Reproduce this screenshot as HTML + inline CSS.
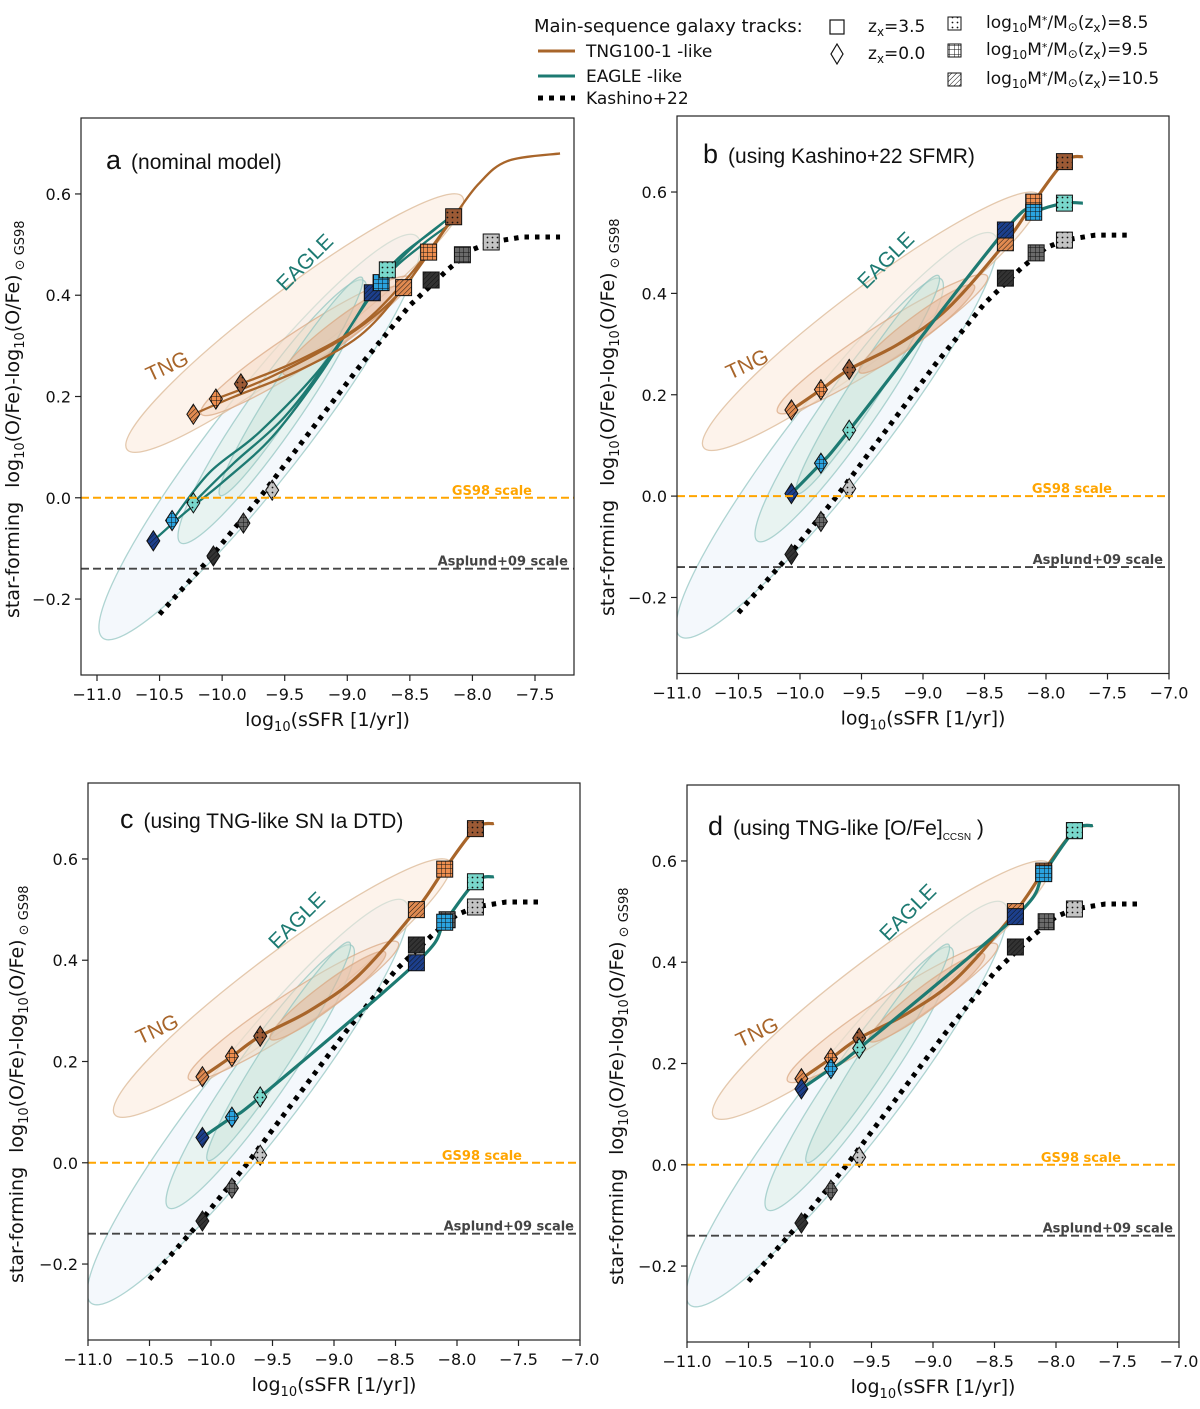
<!DOCTYPE html>
<html><head><meta charset="utf-8"><style>
html,body{margin:0;padding:0;background:#fff;}
svg{display:block;font-family:"DejaVu Sans","Liberation Sans",sans-serif;}
</style></head><body>
<svg id="fig" width="1200" height="1409" viewBox="0 0 1200 1409" xmlns="http://www.w3.org/2000/svg">
<defs>
<pattern id="pdots" patternUnits="userSpaceOnUse" width="5" height="5"><circle cx="2.5" cy="2.5" r="0.9" fill="#111"/></pattern>
<pattern id="pgrid" patternUnits="userSpaceOnUse" width="4.5" height="4.5"><path d="M0 0H4.5M0 0V4.5" stroke="#111" stroke-width="1"/></pattern>
<pattern id="phatch" patternUnits="userSpaceOnUse" width="3.5" height="3.5" patternTransform="rotate(45)"><path d="M0 0V3.5" stroke="#111" stroke-width="1"/></pattern>
</defs>
<g id="legend" font-size="17" fill="#111">
<text x="534" y="32" font-size="18">Main-sequence galaxy tracks:</text>
<line x1="538" y1="51" x2="575" y2="51" stroke="#a8652a" stroke-width="3"/>
<text x="586" y="57">TNG100-1 -like</text>
<line x1="538" y1="76" x2="575" y2="76" stroke="#1d7a72" stroke-width="3"/>
<text x="586" y="82">EAGLE -like</text>
<line x1="538" y1="98" x2="575" y2="98" stroke="#000" stroke-width="5" stroke-dasharray="5 6"/>
<text x="586" y="104">Kashino+22</text>
<rect x="830" y="20" width="14" height="14" fill="none" stroke="#111" stroke-width="1.2"/>
<text x="868" y="32">z<tspan font-size="12" dy="4">x</tspan><tspan dy="-4">=3.5</tspan></text>
<path d="M837 44 L843 54 L837 64 L831 54 Z" fill="none" stroke="#111" stroke-width="1.2"/>
<text x="868" y="59">z<tspan font-size="12" dy="4">x</tspan><tspan dy="-4">=0.0</tspan></text>
<rect x="948" y="17" width="13" height="13" fill="url(#pdots)" stroke="#111"/>
<rect x="948" y="44" width="13" height="13" fill="url(#pgrid)" stroke="#111"/>
<rect x="948" y="73" width="13" height="13" fill="url(#phatch)" stroke="#111"/>
<text x="986" y="28">log<tspan font-size="12" dy="4">10</tspan><tspan dy="-4">M</tspan><tspan font-size="11" dy="-4">*</tspan><tspan dy="4">/M</tspan><tspan font-size="12" dy="3">⊙</tspan><tspan dy="-3">(z</tspan><tspan font-size="12" dy="4">x</tspan><tspan dy="-4">)=8.5</tspan></text>
<text x="986" y="55">log<tspan font-size="12" dy="4">10</tspan><tspan dy="-4">M</tspan><tspan font-size="11" dy="-4">*</tspan><tspan dy="4">/M</tspan><tspan font-size="12" dy="3">⊙</tspan><tspan dy="-3">(z</tspan><tspan font-size="12" dy="4">x</tspan><tspan dy="-4">)=9.5</tspan></text>
<text x="986" y="84">log<tspan font-size="12" dy="4">10</tspan><tspan dy="-4">M</tspan><tspan font-size="11" dy="-4">*</tspan><tspan dy="4">/M</tspan><tspan font-size="12" dy="3">⊙</tspan><tspan dy="-3">(z</tspan><tspan font-size="12" dy="4">x</tspan><tspan dy="-4">)=10.5</tspan></text>
</g>
</svg>
<script>
// ---------- data ----------
const xTicks = [-11.0,-10.5,-10.0,-9.5,-9.0,-8.5,-8.0,-7.5,-7.0];
const yTicks = [-0.2,0.0,0.2,0.4,0.6];
const gs98Level = 0.0;
const asplundLevel = -0.14;
// Kashino+22 relation (same in all panels)
const kashinoX = [-10.5,-10.1,-9.7,-9.3,-8.9,-8.5,-8.2,-8.0,-7.85,-7.6,-7.3];
const kashinoY = [-0.23,-0.12,0.0,0.13,0.26,0.38,0.45,0.49,0.505,0.515,0.515];
const kashinoDiamX = [-10.07,-9.83,-9.6];
const kashinoDiamY = [-0.115,-0.05,0.015];
const kashinoSqX = [-8.33,-8.08,-7.85];
const kashinoSqY = [0.43,0.48,0.505];
// panel a: separate tracks per mass (index 0: 10.5, 1: 9.5, 2: 8.5)
const aTngTrackX = [[-10.23,-9.9,-9.4,-8.9,-8.55,-8.3,-8.12],[-10.05,-9.6,-9.0,-8.6,-8.35,-8.1],[-9.85,-9.4,-8.9,-8.5,-8.15,-7.95,-7.72,-7.3]];
const aTngTrackY = [[0.165,0.2,0.25,0.32,0.415,0.5,0.57],[0.195,0.24,0.32,0.4,0.485,0.57],[0.225,0.27,0.34,0.44,0.555,0.62,0.665,0.68]];
const aEagTrackX = [[-10.55,-10.3,-10.0,-9.6,-9.2,-8.8,-8.5,-8.2],[-10.4,-10.1,-9.7,-9.2,-8.73,-8.4,-8.15],[-10.23,-9.9,-9.5,-9.1,-8.68,-8.3,-8.15]];
const aEagTrackY = [[-0.085,-0.03,0.03,0.12,0.25,0.405,0.49,0.55],[-0.045,0.05,0.13,0.26,0.425,0.5,0.545],[-0.01,0.07,0.16,0.29,0.45,0.53,0.56]];
const aTngDiamX = [-10.23,-10.05,-9.85], aTngDiamY = [0.165,0.195,0.225];
const aTngSqX = [-8.55,-8.35,-8.15], aTngSqY = [0.415,0.485,0.555];
const aEagDiamX = [-10.55,-10.4,-10.23], aEagDiamY = [-0.085,-0.045,-0.01];
const aEagSqX = [-8.8,-8.73,-8.68], aEagSqY = [0.405,0.425,0.45];
// panels b,c,d: single tracks; markers diamonds (z=0) then squares (z=3.5)
const bcdDiamX = [-10.07,-9.83,-9.6];
const bcdSqX = [-8.33,-8.1,-7.85];
const tngDiamY = [0.17,0.21,0.25];
const tngSqY = [0.5,0.58,0.66];
const tngEndX = -7.7, tngEndY = 0.67;
const bEagDiamY = [0.005,0.065,0.13], bEagSqY = [0.525,0.56,0.578], bEagEndY = 0.578;
const cEagDiamY = [0.05,0.09,0.13], cEagSqY = [0.395,0.475,0.555], cEagEndY = 0.565;
const dEagDiamY = [0.15,0.19,0.23], dEagSqY = [0.49,0.575,0.66], dEagEndY = 0.67;

// ---------- helpers ----------
const NS = "http://www.w3.org/2000/svg";
const svg = document.getElementById('fig');
function mk(tag, attrs, parent){const e=document.createElementNS(NS,tag);for(const k in attrs)e.setAttribute(k,attrs[k]);(parent||svg).appendChild(e);return e;}
function smoothPath(pts){
  if(pts.length<3) return 'M'+pts.map(p=>p.join(' ')).join('L');
  let d='M'+pts[0][0]+' '+pts[0][1];
  for(let i=0;i<pts.length-1;i++){
    const p0=pts[Math.max(0,i-1)],p1=pts[i],p2=pts[i+1],p3=pts[Math.min(pts.length-1,i+2)];
    const c1=[p1[0]+(p2[0]-p0[0])/6,p1[1]+(p2[1]-p0[1])/6];
    const c2=[p2[0]-(p3[0]-p1[0])/6,p2[1]-(p3[1]-p1[1])/6];
    d+=`C${c1[0]} ${c1[1]} ${c2[0]} ${c2[1]} ${p2[0]} ${p2[1]}`;
  }
  return d;
}
const pats=['url(#phatch)','url(#pgrid)','url(#pdots)'];
const tngCols=['#e08a50','#ee8e4f','#9c5a35'];
const eagCols=['#1c3f8c','#2aa3e0','#79d8cc'];
const kasCols=['#333333','#6a6a6a','#c4c4c4'];

function drawPanel(cfg){
  const g=mk('g',{});
  
  
  const sx=v=>cfg.px0+(v-cfg.dx0)*(cfg.px1-cfg.px0)/(cfg.dx1-cfg.dx0);
  const sy=v=>cfg.py0+(cfg.dy1-v)*(cfg.py1-cfg.py0)/(cfg.dy1-cfg.dy0);
  const clipId='clip'+cfg.id;
  const cp=mk('clipPath',{id:clipId},g);
  mk('rect',{x:cfg.bx0,y:cfg.py0,width:cfg.bx1-cfg.bx0,height:cfg.py1-cfg.py0},cp);
  const plot=mk('g',{'clip-path':`url(#${clipId})`},g);
  // contours
  function ell(cx,cy,rx,ry,rot,fill,fo,stroke,name){
    const e=mk('ellipse',{cx:sx(cx),cy:sy(cy),rx:rx,ry:ry,transform:`rotate(${rot} ${sx(cx)} ${sy(cy)})`,fill:fill,'fill-opacity':fo,stroke:stroke,'stroke-width':1.3,'stroke-opacity':0.7},plot);
    
    
  }
  ell(-9.7,0.12,255,44,-52,'#f1f6fb',0.8,'#8fc3bf','eagle-contour-outer');
  ell(-9.42,0.345,210,34,-37,'#fbeadb',0.55,'#d9b48f','tng-contour-outer');
  ell(-9.6,0.17,160,26,-55,'#d9eee4',0.45,'#8fc3bf','eagle-contour-mid');
  ell(-9.33,0.3,125,18,-33,'#f6d7c2',0.5,'#d9a57f','tng-contour-mid');
  ell(-9.45,0.22,130,15,-57,'#c8e3d6',0.45,'#8fc3bf','eagle-contour-inner');
  ell(-9.05,0.33,72,12,-37,'#e8b89a',0.55,'#d9a57f','tng-contour-inner');
  // reference lines
  const gl=mk('line',{x1:cfg.bx0,x2:cfg.bx1,y1:sy(gs98Level),y2:sy(gs98Level),stroke:'#ffa500','stroke-width':2,'stroke-dasharray':'8 4'},g);
  
  
  const gt=mk('text',{x:cfg.gsX,y:sy(gs98Level)-3,'font-size':13,'font-weight':'bold',fill:'#ffa500','text-anchor':'end'},g);
  gt.textContent='GS98 scale';
  
  
  const al=mk('line',{x1:cfg.bx0,x2:cfg.bx1,y1:sy(asplundLevel),y2:sy(asplundLevel),stroke:'#444','stroke-width':1.8,'stroke-dasharray':'8 4'},g);
  
  
  const at=mk('text',{x:cfg.bx1-6,y:sy(asplundLevel)-3,'font-size':13,'font-weight':'bold',fill:'#444','text-anchor':'end'},g);
  at.textContent='Asplund+09 scale';
  
  
  // Kashino line
  const kp=mk('polyline',{points:kashinoX.map((x,i)=>sx(x)+','+sy(kashinoY[i])).join(' '),fill:'none',stroke:'#000','stroke-width':5,'stroke-dasharray':'4.5 6'},plot);
  
  
  // tracks
  const lw=cfg.id==='a'?2.3:3.2;
  function track(xs,ys,col,name){
    const p=mk('path',{d:smoothPath(xs.map((x,i)=>[sx(x),sy(ys[i])])),fill:'none',stroke:col,'stroke-width':lw},plot);
    
    
  }
  cfg.tracks.forEach(t=>track(t.x,t.y,t.col,t.name));
  // markers
  function marker(type,x,y,col,pi,name){
    const X=sx(x),Y=sy(y);
    let d;
    if(type==='sq') d=`M${X-8} ${Y-8}h16v16h-16Z`;
    else d=`M${X} ${Y-10}L${X+6.5} ${Y}L${X} ${Y+10}L${X-6.5} ${Y}Z`;
    const m=mk('g',{},plot);
    
    
    mk('path',{d:d,fill:col},m);
    mk('path',{d:d,fill:pats[pi],stroke:'#111','stroke-width':1},m);
  }
  cfg.markers.forEach(mm=>{
    mm.x.forEach((x,i)=>marker(mm.type,x,mm.y[i],mm.cols[i],i,mm.name+'-'+i));
  });
  // frame
  const fr=mk('rect',{x:cfg.bx0,y:cfg.py0,width:cfg.bx1-cfg.bx0,height:cfg.py1-cfg.py0,fill:'none',stroke:'#222','stroke-width':1.2},g);
  
  
  // ticks
  xTicks.forEach(t=>{
    const X=sx(t); if(X<cfg.bx0-1||X>cfg.bx1+1) return;
    mk('line',{x1:X,x2:X,y1:cfg.py1,y2:cfg.py1+6,stroke:'#222','stroke-width':1.2},g);
    const tx=mk('text',{x:X,y:cfg.py1+25,'font-size':16,'text-anchor':'middle',fill:'#111'},g);
    tx.textContent=(t<0?'\u2212':'')+Math.abs(t).toFixed(1);
    
    
  });
  yTicks.forEach(t=>{
    const Y=sy(t);
    mk('line',{x1:cfg.bx0-6,x2:cfg.bx0,y1:Y,y2:Y,stroke:'#222','stroke-width':1.2},g);
    const ty=mk('text',{x:cfg.bx0-10,y:Y+6,'font-size':16,'text-anchor':'end',fill:'#111'},g);
    ty.textContent=(t<0?'\u2212':'')+Math.abs(t).toFixed(1);
    
    
  });
  // axis titles
  const xl=mk('text',{x:(cfg.bx0+cfg.bx1)/2,y:cfg.py1+51,'font-size':19,'text-anchor':'middle',fill:'#111'},g);
  xl.innerHTML='log<tspan font-size="13" dy="5">10</tspan><tspan dy="-5">(sSFR [1/yr])</tspan>';
  
  
  const ylx=cfg.ylx, yly=cfg.py0+500;
  const yl=mk('text',{x:ylx,y:yly,'font-size':19,fill:'#111',transform:`rotate(-90 ${ylx} ${yly})`},g);
  yl.innerHTML='star-forming<tspan dx="14">log</tspan><tspan font-size="13" dy="5">10</tspan><tspan dy="-5">(O/Fe)-log</tspan><tspan font-size="13" dy="5">10</tspan><tspan dy="-5">(O/Fe)</tspan><tspan font-size="13" dy="5"> ⊙ GS98</tspan>';
  
  
  // panel title
  const pt=mk('text',{x:cfg.tx,y:cfg.ty,'font-size':21,fill:'#111','font-family':'"Liberation Sans",sans-serif'},g);
  pt.innerHTML=`<tspan font-size="27">${cfg.id}</tspan><tspan dx="10">${cfg.title}</tspan>`;
  
  
  // sim labels
  const tl=mk('text',{x:cfg.tngLX,y:cfg.tngLY,'font-size':21,fill:'#a8652a','font-family':'"Liberation Sans",sans-serif',transform:`rotate(-25 ${cfg.tngLX} ${cfg.tngLY})`},g);
  tl.textContent='TNG';
  
  
  const el=mk('text',{x:cfg.eagLX,y:cfg.eagLY,'font-size':21,fill:'#1d7a72','font-family':'"Liberation Sans",sans-serif',transform:`rotate(-45 ${cfg.eagLX} ${cfg.eagLY})`},g);
  el.textContent='EAGLE';
  
  
}

const TNG='#a8652a', EAG='#1d7a72';
function kasMarkers(){return [
  {type:'di',x:kashinoDiamX,y:kashinoDiamY,cols:kasCols,name:'kashino-diamond'},
  {type:'sq',x:kashinoSqX,y:kashinoSqY,cols:kasCols,name:'kashino-square'}];}
function singleTracks(eDiamY,eSqY,eEndY){
  return [
   {x:[...bcdDiamX,-9.2,-8.8,...bcdSqX,tngEndX],y:[...tngDiamY,0.3,0.37,...tngSqY,tngEndY],col:TNG,name:'tng-track'},
   {x:[...bcdDiamX,...bcdSqX,tngEndX],y:[...eDiamY,...eSqY,eEndY],col:EAG,name:'eagle-track'}];
}
function singleMarkers(eDiamY,eSqY){
  return [
   {type:'di',x:bcdDiamX,y:tngDiamY,cols:tngCols,name:'tng-diamond'},
   {type:'di',x:bcdDiamX,y:eDiamY,cols:eagCols,name:'eagle-diamond'},
   ...kasMarkers(),
   {type:'sq',x:bcdSqX,y:tngSqY,cols:tngCols,name:'tng-square'},
   {type:'sq',x:bcdSqX,y:eSqY,cols:eagCols,name:'eagle-square'}];
}
// panel a
drawPanel({id:'a',title:'(nominal model)',px0:97,px1:535,dx0:-11,dx1:-7.5,bx0:81,bx1:574,py0:118,py1:675,dy0:-0.35,dy1:0.75,
  ylx:19,tx:106,ty:169,gsX:532,tngLX:150,tngLY:382,eagLX:285,eagLY:292,
  tracks:[...aEagTrackX.map((x,i)=>({x:x,y:aEagTrackY[i],col:EAG,name:'eagle-track-'+i})),
          ...aTngTrackX.map((x,i)=>({x:x,y:aTngTrackY[i],col:TNG,name:'tng-track-'+i}))],
  markers:[{type:'di',x:aTngDiamX,y:aTngDiamY,cols:tngCols,name:'tng-diamond'},
           {type:'di',x:aEagDiamX,y:aEagDiamY,cols:eagCols,name:'eagle-diamond'},
           ...kasMarkers(),
           {type:'sq',x:aTngSqX,y:aTngSqY,cols:tngCols,name:'tng-square'},
           {type:'sq',x:aEagSqX,y:aEagSqY,cols:eagCols,name:'eagle-square'}]});
// panel b
drawPanel({id:'b',title:'(using Kashino+22 SFMR)',px0:677,px1:1169,dx0:-11,dx1:-7,bx0:677,bx1:1169,py0:116,py1:673.5,dy0:-0.35,dy1:0.75,
  ylx:614,tx:703,ty:163,gsX:1112,tngLX:730,tngLY:380,eagLX:866,eagLY:290,
  tracks:singleTracks(bEagDiamY,bEagSqY,bEagEndY),markers:singleMarkers(bEagDiamY,bEagSqY)});
// panel c
drawPanel({id:'c',title:'(using TNG-like SN Ia DTD)',px0:88,px1:580,dx0:-11,dx1:-7,bx0:88,bx1:580,py0:783,py1:1340,dy0:-0.35,dy1:0.75,
  ylx:23,tx:120,ty:828,gsX:522,tngLX:140,tngLY:1045,eagLX:277,eagLY:950,
  tracks:singleTracks(cEagDiamY,cEagSqY,cEagEndY),markers:singleMarkers(cEagDiamY,cEagSqY)});
// panel d
drawPanel({id:'d',title:'(using TNG-like [O/Fe]<tspan font-size="10" dy="5">CCSN</tspan><tspan dy="-5"> )</tspan>',px0:687,px1:1179,dx0:-11,dx1:-7,bx0:687,bx1:1179,py0:785,py1:1342,dy0:-0.35,dy1:0.75,
  ylx:623,tx:708,ty:835,gsX:1121,tngLX:740,tngLY:1048,eagLX:888,eagLY:942,
  tracks:singleTracks(dEagDiamY,dEagSqY,dEagEndY),markers:singleMarkers(dEagDiamY,dEagSqY)});
</script>
</body></html>
